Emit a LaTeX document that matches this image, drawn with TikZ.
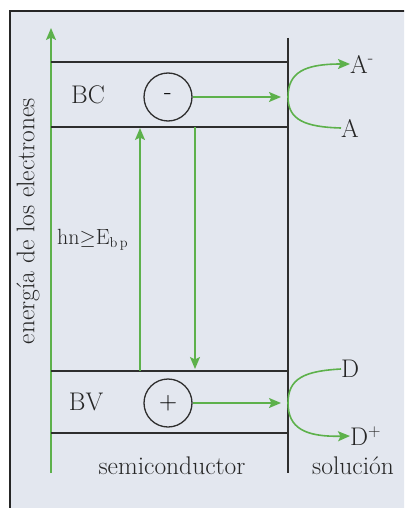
\documentclass[tikz,border=0pt]{standalone}
\usetikzlibrary{arrows.meta}
\definecolor{bgc}{HTML}{E3E7EF}
\definecolor{grn}{HTML}{5DB14B}
\definecolor{lin}{HTML}{2E2E2E}
\tikzset{
  band/.style={draw=lin, line width=1.8pt},
  sep/.style={draw=lin, line width=1.6pt},
  garrow/.style={draw=grn, line width=1.6pt, -{Stealth[length=12pt,width=10pt,inset=2.5pt]}},
  gline/.style={draw=grn, line width=1.6pt},
  carrier/.style={circle, draw=lin, line width=1.3pt, minimum size=48pt, inner sep=0pt, font=\fontsize{25}{29}\selectfont},
  lbl/.style={inner sep=0pt, text=black!85, font=\fontsize{25.5}{30}\selectfont},
  slbl/.style={inner sep=0pt, text=black!85, font=\fontsize{22}{26}\selectfont}
}
\begin{document}
\begin{tikzpicture}[x=1pt,y=-1pt]
\useasboundingbox (0,0) rectangle (404,508);
\clip (0,0) rectangle (404,508);
% frame
\fill[white] (0,0) rectangle (404,508);
\draw[fill=bgc, draw=black!85, line width=2.6pt] (10,11) rectangle (420,530);
% energy axis
\coordinate (axb) at (51,473);
\coordinate (axt) at (51,28);
\draw[garrow] (axb) -- (axt);
% interface line
\coordinate (ift) at (288,38);
\coordinate (ifb) at (288,473);
\draw[sep] (ift) -- (ifb);
% band edges
\coordinate (c1l) at (51,62);  \coordinate (c1r) at (288,62);
\coordinate (c2l) at (51,127); \coordinate (c2r) at (288,127);
\coordinate (v1l) at (51,371); \coordinate (v1r) at (288,371);
\coordinate (v2l) at (51,433); \coordinate (v2r) at (288,433);
\draw[band] (c1l) -- (c1r);
\draw[band] (c2l) -- (c2r);
\draw[band] (v1l) -- (v1r);
\draw[band] (v2l) -- (v2r);
% labels
\node[lbl] (bc) at (88,95) {BC};
\node[lbl] (bv) at (86,402) {BV};
\node[carrier] (el) at (168,97) {-};
\node[carrier] (ho) at (168,403) {+};
% transfer arrows
\coordinate (ea) at (281,97);
\coordinate (ha) at (281,403);
\draw[garrow] (el.east) -- (ea);
\draw[garrow] (ho.east) -- (ha);
% excitation / recombination
\coordinate (exb) at (140,371);
\coordinate (ext) at (140,128);
\coordinate (rct) at (195,127);
\coordinate (rcb) at (195,369);
\draw[garrow] (exb) -- (ext);
\draw[garrow] (rct) -- (rcb);
\node[slbl, anchor=base west] (hv) at (57,244) {hn$\geq$E$_{\mathrm{b\,p}}$};
% redox curves
\coordinate (ca) at (288,97);
\coordinate (cd) at (288,403);
\node[lbl, anchor=west] (am) at (350,64) {A\textsuperscript{-}};
\node[lbl, anchor=west] (a) at (341,128) {A};
\node[lbl, anchor=west] (d) at (341,369) {D};
\node[lbl, anchor=west] (dp) at (350,436) {D$^{+}$};
\draw[garrow] (ca) .. controls (288,72) and (305,64) .. (am.west);
\draw[gline] (ca) .. controls (288,120) and (305,127) .. (a.west);
\draw[gline] (cd) .. controls (288,378) and (305,371) .. (d.west);
\draw[garrow] (cd) .. controls (288,428) and (305,437) .. (dp.west);
% bottom labels
\node[lbl] (sc) at (172,466) {semiconductor};
\node[lbl] (so) at (353,466) {solución};
% axis label
\node[lbl, rotate=90] (ax) at (28,221) {energía de los electrones};
\end{tikzpicture}
\end{document}
